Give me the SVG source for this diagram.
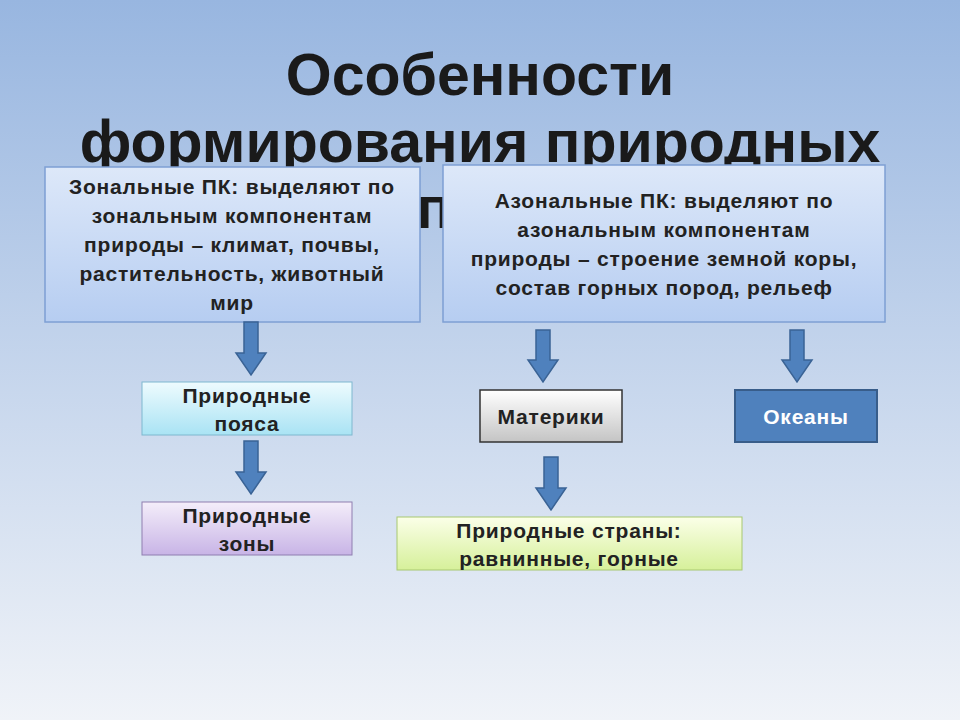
<svg xmlns="http://www.w3.org/2000/svg" width="960" height="720" viewBox="0 0 960 720">
<defs>
<linearGradient id="bg" x1="0" y1="0" x2="0" y2="1"><stop offset="0" stop-color="#98b6e0"/><stop offset="1" stop-color="#f0f3f8"/></linearGradient>
<linearGradient id="gBlue" x1="0" y1="0" x2="0" y2="1"><stop offset="0" stop-color="#dde8f9"/><stop offset="1" stop-color="#b6cdf1"/></linearGradient>
<linearGradient id="gCyan" x1="0" y1="0" x2="0" y2="1"><stop offset="0" stop-color="#eefbfe"/><stop offset="1" stop-color="#a9e3f4"/></linearGradient>
<linearGradient id="gLav" x1="0" y1="0" x2="0" y2="1"><stop offset="0" stop-color="#f4eefa"/><stop offset="1" stop-color="#c8b4e6"/></linearGradient>
<linearGradient id="gGray" x1="0" y1="0" x2="0" y2="1"><stop offset="0" stop-color="#ffffff"/><stop offset="1" stop-color="#c4c4c4"/></linearGradient>
<linearGradient id="gLime" x1="0" y1="0" x2="0" y2="1"><stop offset="0" stop-color="#fbffe8"/><stop offset="1" stop-color="#d6f09a"/></linearGradient>
</defs>
<style>
.t{font-family:"Liberation Sans",Arial,sans-serif;font-weight:bold;fill:#222;text-anchor:middle}
.title{font-size:59px;fill:#1a1a1a}
.b{font-size:21px;letter-spacing:0.8px}
.arr{fill:#4f81bd;stroke:#3a6395;stroke-width:1.5}
</style>
<rect width="960" height="720" fill="url(#bg)"/>
<g id="title">
<text class="t title" x="480" y="95">Особенности</text>
<text class="t title" x="480" y="162">формирования природных</text>
<text class="t title" x="434" y="228">п</text>
</g>
<g id="zonal">
<rect x="45" y="167" width="375" height="155" fill="url(#gBlue)" stroke="#7e9fd3" stroke-width="1.5"/>
<text class="t b" x="232" y="194">Зональные ПК: выделяют по</text>
<text class="t b" x="232" y="223">зональным компонентам</text>
<text class="t b" x="232" y="252">природы – климат, почвы,</text>
<text class="t b" x="232" y="281">растительность, животный</text>
<text class="t b" x="232" y="310">мир</text>
</g>
<g id="azonal">
<rect x="443" y="165" width="442" height="157" fill="url(#gBlue)" stroke="#7e9fd3" stroke-width="1.5"/>
<text class="t b" x="664" y="208">Азональные ПК: выделяют по</text>
<text class="t b" x="664" y="237">азональным компонентам</text>
<text class="t b" x="664" y="266">природы – строение земной коры,</text>
<text class="t b" x="664" y="295">состав горных пород, рельеф</text>
</g>
<g id="belts">
<rect x="142" y="382" width="210" height="53" fill="url(#gCyan)" stroke="#7fb8cf" stroke-width="1"/>
<text class="t b" x="247" y="403">Природные</text>
<text class="t b" x="247" y="431">пояса</text>
</g>
<g id="zones">
<rect x="142" y="502" width="210" height="53" fill="url(#gLav)" stroke="#8f7fb0" stroke-width="1"/>
<text class="t b" x="247" y="523">Природные</text>
<text class="t b" x="247" y="551">зоны</text>
</g>
<g id="continents">
<rect x="480" y="390" width="142" height="52" fill="url(#gGray)" stroke="#333" stroke-width="1.5"/>
<text class="t b" x="551" y="424">Материки</text>
</g>
<g id="oceans">
<rect x="735" y="390" width="142" height="52" fill="#4f81bd" stroke="#385d8a" stroke-width="2"/>
<text class="t b" x="806" y="424" style="fill:#fff">Океаны</text>
</g>
<g id="countries">
<rect x="397" y="517" width="345" height="53" fill="url(#gLime)" stroke="#a8c870" stroke-width="1"/>
<text class="t b" x="569" y="538">Природные страны:</text>
<text class="t b" x="569" y="566">равнинные, горные</text>
</g>
<g id="connectors">
<path class="arr" d="M244 322 h14 v31 h8 l-15 22 l-15 -22 h8 z"/>
<path class="arr" d="M244 441 h14 v31 h8 l-15 22 l-15 -22 h8 z"/>
<path class="arr" d="M536 330 h14 v30 h8 l-15 22 l-15 -22 h8 z"/>
<path class="arr" d="M790 330 h14 v30 h8 l-15 22 l-15 -22 h8 z"/>
<path class="arr" d="M544 457 h14 v31 h8 l-15 22 l-15 -22 h8 z"/>
</g>
</svg>
